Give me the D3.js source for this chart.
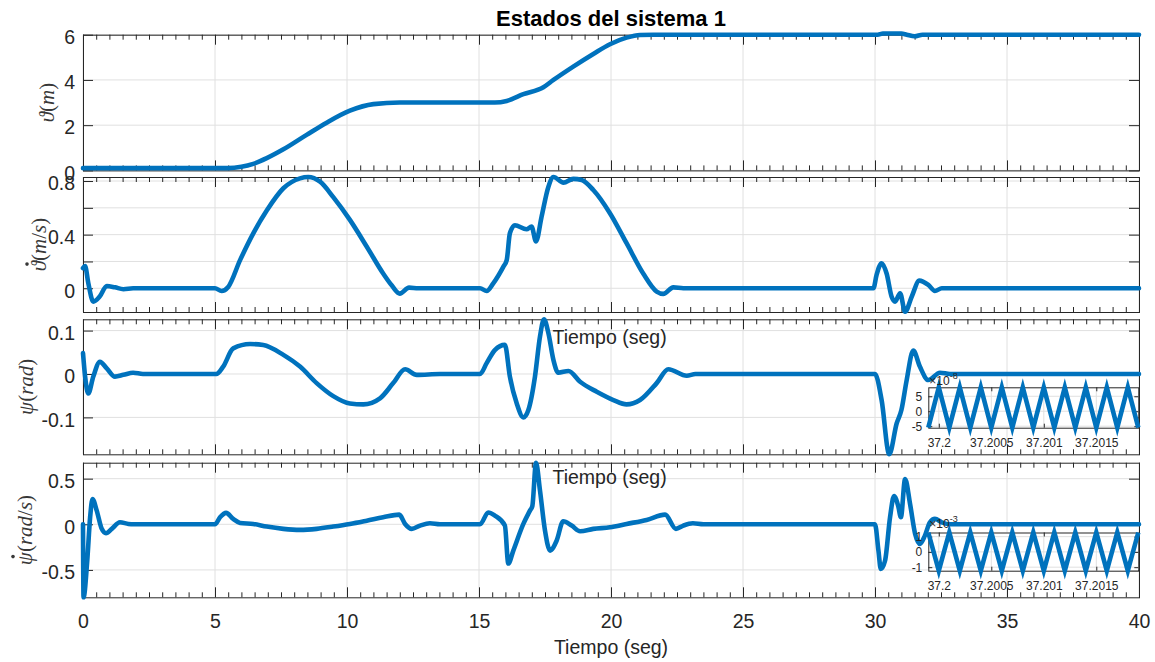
<!DOCTYPE html>
<html><head><meta charset="utf-8">
<script src="https://cdn.jsdelivr.net/npm/d3@7"></script>
<style>body{margin:0;background:#fff} svg{display:block}</style>
</head><body><svg id="c" width="1155" height="662"></svg>
<script>
// ---------------- DATA ----------------
const timeTicks = [0,5,10,15,20,25,30,35,40];
const timeMinorTicks = [0.5,1,1.5,2,2.5,3,3.5,4,4.5,5.5,6,6.5,7,7.5,8,8.5,9,9.5,10.5,11,11.5,12,12.5,13,13.5,14,14.5,15.5,16,16.5,17,17.5,18,18.5,19,19.5,20.5,21,21.5,22,22.5,23,23.5,24,24.5,25.5,26,26.5,27,27.5,28,28.5,29,29.5,30.5,31,31.5,32,32.5,33,33.5,34,34.5,35.5,36,36.5,37,37.5,38,38.5,39,39.5];

// theta (m)
const thetaT = [0,5.0,5.5,6.0,6.45,6.96,7.59,8.47,9.23,10.11,11.0,12.0,15.6,16.05,16.68,17.44,17.82,18.57,19.33,19.96,20.59,21.1,21.6,30.1,30.3,31.0,31.2,31.5,31.8,40];
const thetaV = [0.1,0.1,0.1,0.16,0.29,0.54,0.93,1.57,2.11,2.64,2.93,3.0,3.0,3.07,3.37,3.68,4.0,4.59,5.15,5.58,5.87,5.99,6.0,6.0,6.05,6.05,6.0,5.93,6.0,6.0];
const thetaTicks = [0,2,4,6];
const thetaLabels = [0,2,4,6];

// theta dot (m/s)
const thetaDotT = [0,0.08,0.2,0.39,0.64,0.9,1.21,1.53,1.9,5.0,5.25,5.5,5.95,6.45,6.96,7.59,8.22,8.53,8.98,9.48,10.11,10.75,11.37,11.7,12.0,12.35,12.7,15.04,15.29,15.54,15.92,16.05,16.17,16.36,16.8,16.99,17.16,17.37,17.63,17.82,18.2,18.57,18.89,19.33,19.96,20.59,21.22,21.73,21.98,22.36,22.74,29.94,30.06,30.25,30.44,30.63,30.76,30.95,31.14,31.39,31.68,32.02,32.27,32.53,40];
const thetaDotV = [0.15,0.165,0.04,-0.1,-0.06,0.017,0.007,-0.007,0,0,-0.02,0.01,0.21,0.41,0.58,0.746,0.82,0.83,0.795,0.68,0.51,0.31,0.11,0.02,-0.04,0.005,0,0,-0.02,0.037,0.16,0.21,0.41,0.47,0.44,0.46,0.35,0.534,0.758,0.83,0.788,0.816,0.808,0.733,0.56,0.336,0.11,-0.025,-0.042,0.007,0,0,0.1,0.187,0.11,-0.063,-0.1,-0.037,-0.175,-0.063,0.057,0.025,-0.02,0,0];
const thetaDotTicks = [0,0.2,0.4,0.6,0.8];
const thetaDotLabels = [0,0.4,0.8];

// psi (rad)
const psiT = [0,0.08,0.2,0.39,0.64,0.9,1.21,1.53,1.9,2.27,5.05,5.31,5.69,6.33,6.83,7.59,8.22,8.85,9.48,10.11,10.62,11.25,11.75,12.2,12.64,13.52,15.04,15.29,15.6,15.98,16.17,16.43,16.68,16.87,17.12,17.31,17.46,17.63,17.82,18.0,18.39,18.83,19.46,20.09,20.59,21.1,21.73,22.17,22.87,23.2,30.0,30.25,30.54,30.82,31.0,31.2,31.45,31.7,32.02,32.46,32.84,40];
const psiV = [0.048,-0.006,-0.045,-0.006,0.028,0.013,-0.006,-0.002,0.003,0,0,0.017,0.059,0.069,0.067,0.044,0.017,-0.021,-0.051,-0.068,-0.07,-0.056,-0.021,0.011,-0.002,0,0,0.025,0.055,0.067,-0.006,-0.068,-0.1,-0.083,-0.006,0.086,0.126,0.094,0.032,0.003,0.007,-0.018,-0.041,-0.06,-0.07,-0.06,-0.021,0.011,-0.004,0,0,-0.06,-0.185,-0.114,-0.083,-0.014,0.054,0.017,-0.014,0.003,0,0];
const psiTicks = [-0.1,0,0.1];
const psiLabels = [-0.1,0,0.1];

// psi dot (rad/s)
const psiDotT = [0,0.02,0.16,0.27,0.36,0.52,0.71,0.87,1.09,1.40,1.72,1.9,5.0,5.19,5.42,5.69,5.95,6.45,6.96,7.59,8.22,8.85,9.48,10.11,10.75,11.37,11.98,12.2,12.45,12.77,13.14,13.52,15.04,15.35,15.6,15.98,16.11,16.30,16.68,16.93,17.02,17.16,17.31,17.5,17.69,17.94,18.19,18.51,18.83,19.33,19.96,20.59,21.35,22.05,22.46,22.74,23.1,23.5,30.0,30.13,30.22,30.38,30.57,30.72,30.88,30.98,31.14,31.33,31.52,31.7,31.89,32.08,32.27,32.53,32.84,40];
const psiDotV = [0,-0.8,-0.4,0.077,0.278,0.15,-0.05,-0.098,-0.05,0.022,0.004,0,0,0.077,0.125,0.059,0.015,0.004,-0.025,-0.05,-0.061,-0.05,-0.025,0.004,0.04,0.077,0.106,0.004,-0.05,-0.014,0.011,0,0,0.13,0.095,-0.014,-0.43,-0.288,0.004,0.15,0.2,0.675,0.37,-0.069,-0.288,-0.18,0.033,-0.014,-0.077,-0.05,-0.033,0.004,0.048,0.106,-0.05,-0.014,0.011,0,0,-0.288,-0.49,-0.4,0.077,0.31,0.2,0.077,0.497,0.22,-0.105,-0.215,-0.124,0.022,0.059,0.022,0,0];
const psiDotTicks = [-0.5,0,0.5];
const psiDotLabels = [-0.5,0,0.5];

// zoom insets (t = 37.1999 .. 37.2019 s)
const insetT = [37.1999,37.2,37.2001,37.2002,37.2003,37.2004,37.2005,37.2006,37.2007,37.2008,37.2009,37.201,37.2011,37.2012,37.2013,37.2014,37.2015,37.2016,37.2017,37.2018,37.2019];
const insetPsiV = [-5.5e-8,8e-8,-5.5e-8,8e-8,-5.5e-8,8e-8,-5.5e-8,8e-8,-5.5e-8,8e-8,-5.5e-8,8e-8,-5.5e-8,8e-8,-5.5e-8,8e-8,-5.5e-8,8e-8,-5.5e-8,8e-8,-5.5e-8];
const insetPsiDotV = [1.27e-3,-1.23e-3,1.27e-3,-1.23e-3,1.27e-3,-1.23e-3,1.27e-3,-1.23e-3,1.27e-3,-1.23e-3,1.27e-3,-1.23e-3,1.27e-3,-1.23e-3,1.27e-3,-1.23e-3,1.27e-3,-1.23e-3,1.27e-3,-1.23e-3,1.27e-3];
const insetTimeTicks = [37.2,37.2005,37.201,37.2015];
const insetTimeLabels = ["37.2","37.2005","37.201","37.2015"];
const insetPsiTicks = [-5e-8,0,5e-8];
const insetPsiLabels = ["-5","0","5"];
const insetPsiDotTicks = [-1e-3,0,1e-3];
const insetPsiDotLabels = ["-1","0","1"];

// ---------------- DRAW ----------------
const svg = d3.select('#c');
const SANS = '"Liberation Sans", Arial, Helvetica, sans-serif';
const SERIF = '"Liberation Serif", "DejaVu Serif", serif';
const AX = '#262626', GRID = '#e0e0e0', LINE = '#0072BD', LW = 4.6, LABC = '#383838';
const X0 = 83, X1 = 1139;
const x = d3.scaleLinear().domain([0,40]).range([X0,X1]);

const panels = [
  {top:34.7, bottom:170.4, domain:[0,6], t:thetaT, v:thetaV, ticks:thetaTicks, labels:thetaLabels,
   ylab:[['\u03D1','i'],['(','n'],['m','i'],[')','n']], dot:false, ylabX:47},
  {top:177, bottom:312, domain:[-0.177,0.83], t:thetaDotT, v:thetaDotV, ticks:thetaDotTicks, labels:thetaDotLabels,
   ylab:[['\u03D1','i'],['(','n'],['m','i'],['/','n'],['s','i'],[')','n']], dot:true, ylabX:39},
  {top:319.3, bottom:454.3, domain:[-0.185,0.126], t:psiT, v:psiV, ticks:psiTicks, labels:psiLabels,
   ylab:[['\u03C8','i'],['(','n'],['rad','i'],[')','n']], dot:false, ylabX:26},
  {top:462.7, bottom:597.3, domain:[-0.8,0.675], t:psiDotT, v:psiDotV, ticks:psiDotTicks, labels:psiDotLabels,
   ylab:[['\u03C8','i'],['(','n'],['rad','i'],['/','n'],['s','i'],[')','n']], dot:true, ylabX:25}
];

function styleAxis(g, size){
  g.attr('font-family', SANS).attr('font-size', size).style('color', AX);
  g.select('.domain').remove();
  g.selectAll('.tick text').attr('fill', AX);
}

panels.forEach((p, i) => {
  const y = d3.scaleLinear().domain(p.domain).range([p.bottom, p.top]);
  const g = svg.append('g');
  // grid
  g.selectAll('.gx').data(timeTicks).join('line').attr('class','gx')
    .attr('x1', d => x(d)).attr('x2', d => x(d)).attr('y1', p.top).attr('y2', p.bottom)
    .attr('stroke', GRID).attr('stroke-width', 1);
  g.selectAll('.gy').data(p.ticks).join('line').attr('class','gy')
    .attr('x1', X0).attr('x2', X1).attr('y1', d => y(d)).attr('y2', d => y(d))
    .attr('stroke', GRID).attr('stroke-width', 1);
  const last = i === panels.length - 1;
  // bottom axis
  g.append('g').attr('transform', `translate(0,${p.bottom})`)
    .call(d3.axisBottom(x).tickValues(timeTicks).tickSize(-10).tickPadding(17)
      .tickFormat(last ? (d => String(d)) : (() => '')))
    .call(a => styleAxis(a, 19.5));
  g.append('g').attr('transform', `translate(0,${p.bottom})`)
    .call(d3.axisBottom(x).tickValues(timeMinorTicks).tickSize(-5).tickFormat(() => ''))
    .call(a => styleAxis(a, 10));
  // top axis
  g.append('g').attr('transform', `translate(0,${p.top})`)
    .call(d3.axisTop(x).tickValues(timeTicks).tickSize(-10).tickFormat(() => ''))
    .call(a => styleAxis(a, 10));
  g.append('g').attr('transform', `translate(0,${p.top})`)
    .call(d3.axisTop(x).tickValues(timeMinorTicks).tickSize(-5).tickFormat(() => ''))
    .call(a => styleAxis(a, 10));
  // left axis
  g.append('g').attr('transform', `translate(${X0},0)`)
    .call(d3.axisLeft(y).tickValues(p.ticks).tickSize(-10).tickPadding(8)
      .tickFormat(d => p.labels.some(l => Math.abs(l - d) < 1e-9) ? String(d) : ''))
    .call(a => { styleAxis(a, 19.5); a.selectAll('.tick text').attr('dy', '0.45em'); });
  // right axis
  g.append('g').attr('transform', `translate(${X1},0)`)
    .call(d3.axisRight(y).tickValues(p.ticks).tickSize(-10).tickFormat(() => ''))
    .call(a => styleAxis(a, 10));
  // box
  g.append('rect').attr('x', X0 + 0.5).attr('y', p.top + 0.5).attr('width', X1 - X0).attr('height', p.bottom - p.top)
    .attr('fill', 'none').attr('stroke', AX).attr('stroke-width', 1);
  // data line
  const line = d3.line().x(d => x(d[0])).y(d => y(d[1])).curve(d3.curveMonotoneX);
  g.append('path').datum(d3.zip(p.t, p.v)).attr('d', line)
    .attr('fill', 'none').attr('stroke', LINE).attr('stroke-width', LW)
    .attr('stroke-linejoin', 'round').attr('stroke-linecap', 'round');
  // y label (rotated, LaTeX-like: italic variables, upright punctuation)
  const cy = (p.top + p.bottom) / 2;
  const lg = g.append('g').attr('transform', `translate(${p.ylabX},${cy}) rotate(-90)`);
  const yl = lg.append('text').attr('x', 0).attr('y', 7)
    .attr('text-anchor', 'middle')
    .attr('font-family', SERIF).attr('font-size', 21).attr('fill', LABC);
  p.ylab.forEach(([s, st]) => yl.append('tspan').text(s).attr('font-style', st === 'i' ? 'italic' : 'normal'));
  if (p.dot) {
    const el = yl.node();
    const s0 = el.getStartPositionOfChar(0), e0 = el.getEndPositionOfChar(0);
    lg.append('circle').attr('cx', (s0.x + e0.x) / 2 + 2).attr('cy', 7 - 19)
      .attr('r', 1.8).attr('fill', LABC);
  }
});

// ---------------- INSETS ----------------
const insets = [
  {left:928.3, right:1138.3, top:387.3, bottom:427.7, domain:[-5.5e-8, 8e-8], v:insetPsiV,
   ticks:insetPsiTicks, labels:insetPsiLabels, exp:'-8', expY:385, labY:447.5},
  {left:928.3, right:1138.3, top:532.5, bottom:570.7, domain:[-1.23e-3, 1.27e-3], v:insetPsiDotV,
   ticks:insetPsiDotTicks, labels:insetPsiDotLabels, exp:'-3', expY:527.5, labY:590.5}
];
insets.forEach(s => {
  const xi = d3.scaleLinear().domain([37.1999, 37.2019]).range([s.left, s.right]);
  const yi = d3.scaleLinear().domain(s.domain).range([s.bottom, s.top]);
  const g = svg.append('g');
  g.append('rect').attr('x', s.left).attr('y', s.top).attr('width', s.right - s.left).attr('height', s.bottom - s.top)
    .attr('fill', '#fff');
  g.selectAll('.gx').data(insetTimeTicks).join('line').attr('class','gx')
    .attr('x1', d => xi(d)).attr('x2', d => xi(d)).attr('y1', s.top).attr('y2', s.bottom).attr('stroke', GRID);
  g.selectAll('.gy').data(s.ticks).join('line').attr('class','gy')
    .attr('x1', s.left).attr('x2', s.right).attr('y1', d => yi(d)).attr('y2', d => yi(d)).attr('stroke', GRID);
  g.append('g').attr('transform', `translate(0,${s.bottom})`)
    .call(d3.axisBottom(xi).tickValues(insetTimeTicks).tickSize(-4).tickPadding(0)
      .tickFormat((d, k) => insetTimeLabels[k]))
    .call(a => { styleAxis(a, 12); a.selectAll('.tick text').attr('dy', null).attr('y', s.labY - s.bottom); });
  g.append('g').attr('transform', `translate(0,${s.top})`)
    .call(d3.axisTop(xi).tickValues(insetTimeTicks).tickSize(-4).tickFormat(() => ''))
    .call(a => styleAxis(a, 12));
  g.append('g').attr('transform', `translate(${s.left},0)`)
    .call(d3.axisLeft(yi).tickValues(s.ticks).tickSize(-4).tickPadding(6).tickFormat((d, k) => s.labels[k]))
    .call(a => styleAxis(a, 12));
  g.append('g').attr('transform', `translate(${s.right},0)`)
    .call(d3.axisRight(yi).tickValues(s.ticks).tickSize(-4).tickFormat(() => ''))
    .call(a => styleAxis(a, 12));
  g.append('rect').attr('x', s.left + 0.5).attr('y', s.top + 0.5).attr('width', s.right - s.left).attr('height', s.bottom - s.top)
    .attr('fill', 'none').attr('stroke', AX);
  const line = d3.line().x(d => xi(d[0])).y(d => yi(d[1]));
  g.append('path').datum(d3.zip(insetT, s.v)).attr('d', line)
    .attr('fill', 'none').attr('stroke', LINE).attr('stroke-width', LW).attr('stroke-linejoin', 'miter');
  const ex = g.append('text').attr('x', s.left + 1).attr('y', s.expY)
    .attr('font-family', SANS).attr('font-size', 12).attr('fill', AX);
  ex.append('tspan').text('\u00D710');
  ex.append('tspan').text(s.exp).attr('font-size', 9).attr('dy', -6);
});

// ---------------- TEXTS ----------------
svg.append('text').attr('x', (X0 + X1) / 2).attr('y', 26).attr('text-anchor', 'middle')
  .attr('font-family', SANS).attr('font-weight', 'bold').attr('font-size', 22).attr('fill', '#000')
  .text('Estados del sistema 1');
svg.append('text').attr('x', (X0 + X1) / 2).attr('y', 654).attr('text-anchor', 'middle')
  .attr('font-family', SANS).attr('font-size', 19.5).attr('fill', AX).text('Tiempo (seg)');
[343.5, 484].forEach(yy => svg.append('text').attr('x', 552.5).attr('y', yy)
  .attr('font-family', SANS).attr('font-size', 19.5).attr('fill', AX).text('Tiempo (seg)'));
</script>
</body></html>
